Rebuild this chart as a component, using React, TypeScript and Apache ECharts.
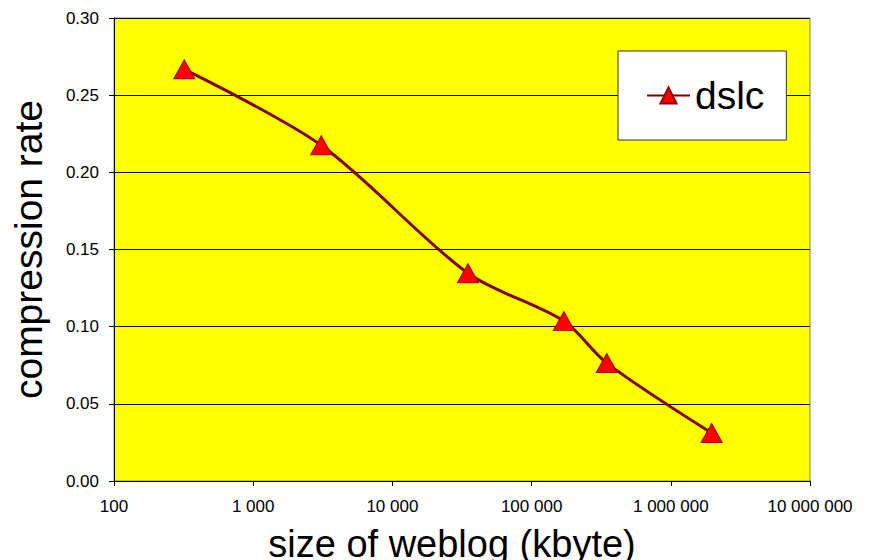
import React, { useEffect, useRef } from "react";
import * as echarts from "echarts";

const seriesName = "dslc";
const sizesKbyte = [320, 3080, 34900, 170600, 346800, 1965000];
const compressionRates = [0.2667, 0.2175, 0.1346, 0.1036, 0.0764, 0.0311];
const xTitle = "size of weblog (kbyte)";
const yTitle = "compression rate";

const FONT = "'Liberation Sans', Arial, sans-serif";

function fmtThousands(v: number): string {
  return Math.round(v)
    .toString()
    .replace(/\B(?=(\d{3})+(?!\d))/g, " ");
}

export default function App() {
  const ref = useRef<HTMLDivElement>(null);
  useEffect(() => {
    if (!ref.current) return;
    const chart = echarts.init(ref.current, undefined, { renderer: "svg" });
    const data = sizesKbyte.map((x, i) => [x, compressionRates[i]]);
    chart.setOption({
      animation: false,
      backgroundColor: "#ffffff",
      grid: {
        left: 114,
        right: 64,
        top: 18,
        bottom: 79,
        containLabel: false,
        outerBoundsMode: "none",
        show: true,
        backgroundColor: "#ffff00",
        borderColor: "#808080",
        borderWidth: 1,
      },
      legend: {
        left: 618,
        top: 51,
        orient: "vertical",
        backgroundColor: "#ffffff",
        borderColor: "#333333",
        borderWidth: 1,
        padding: [25, 22, 25, 28],
        itemWidth: 43,
        itemHeight: 20,
        itemGap: 0,
        textStyle: {
          fontFamily: FONT,
          fontSize: 39,
          color: "#000000",
          lineHeight: 39,
        },
        data: [seriesName],
      },
      xAxis: {
        type: "log",
        logBase: 10,
        min: 100,
        max: 10000000,
        name: xTitle,
        nameLocation: "middle",
        nameGap: 48,
        nameTextStyle: {
          fontFamily: FONT,
          fontSize: 38,
          lineHeight: 30,
          color: "#000000",
          padding: [0, 20, 0, 0],
        },
        axisLine: { show: true, lineStyle: { color: "#000000", width: 1 } },
        axisTick: { show: true, inside: false, length: 5, lineStyle: { color: "#000000" } },
        axisLabel: {
          fontFamily: FONT,
          fontSize: 17,
          color: "#000000",
          margin: 17,
          formatter: (v: number) => fmtThousands(v),
        },
        splitLine: { show: false },
        minorTick: { show: false },
      },
      yAxis: {
        type: "value",
        min: 0,
        max: 0.3,
        interval: 0.05,
        name: yTitle,
        nameLocation: "middle",
        nameGap: 66,
        nameTextStyle: {
          fontFamily: FONT,
          fontSize: 39,
          color: "#000000",
        },
        axisLine: { show: true, lineStyle: { color: "#000000", width: 1 } },
        axisTick: { show: true, inside: false, length: 5, lineStyle: { color: "#000000" } },
        axisLabel: {
          fontFamily: FONT,
          fontSize: 17,
          color: "#000000",
          margin: 15,
          formatter: (v: number) => v.toFixed(2),
        },
        splitLine: { show: true, lineStyle: { color: "#000000", width: 1 } },
      },
      series: [
        {
          name: seriesName,
          type: "line",
          data,
          smooth: 0.3,
          symbol: "triangle",
          symbolSize: [21, 19],
          lineStyle: { color: "#800000", width: 3 },
          itemStyle: { color: "#ff0000", borderColor: "#990000", borderWidth: 1 },
          z: 3,
        },
      ],
    });
    return () => chart.dispose();
  }, []);
  return (
    <div
      ref={ref}
      style={{ position: "fixed", left: 0, top: 0, width: 874, height: 560 }}
    />
  );
}
